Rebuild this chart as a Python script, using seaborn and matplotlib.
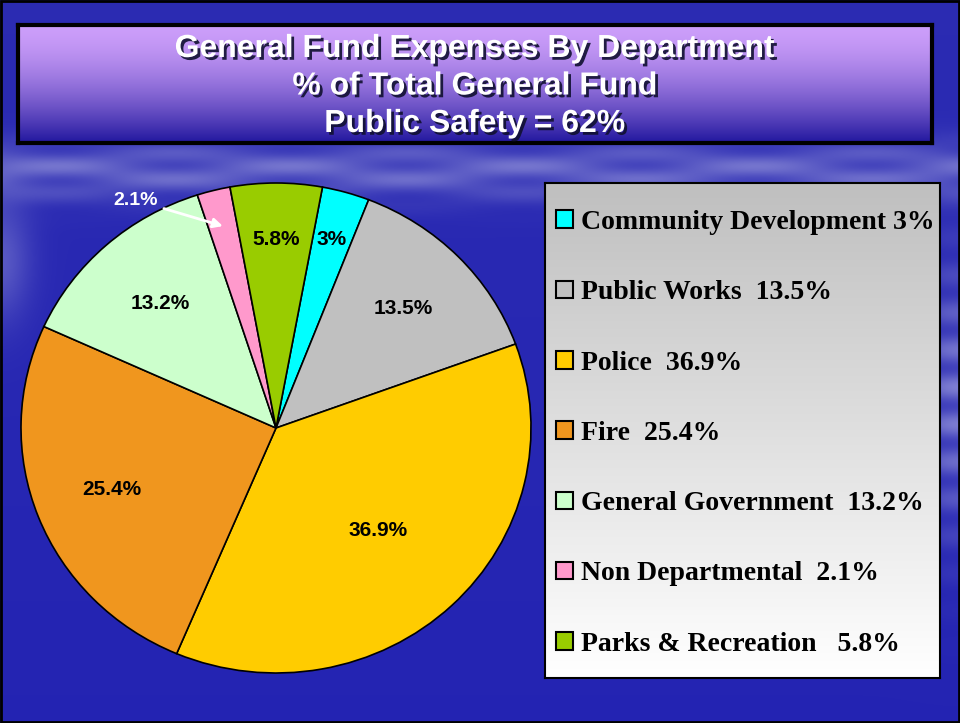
import matplotlib

matplotlib.use("Agg")

import matplotlib.pyplot as plt
import matplotlib.patheffects as pe
import numpy as np
import seaborn as sns

# data
departments = [
    "Community Development",
    "Public Works",
    "Police",
    "Fire",
    "General Government",
    "Non Departmental",
    "Parks & Recreation",
]
shares = [3.0, 13.5, 36.9, 25.4, 13.2, 2.1, 5.8]
slice_labels = ["3%", "13.5%", "36.9%", "25.4%", "13.2%", "2.1%", "5.8%"]
legend_labels = [
    "Community Development 3%",
    "Public Works  13.5%",
    "Police  36.9%",
    "Fire  25.4%",
    "General Government  13.2%",
    "Non Departmental  2.1%",
    "Parks & Recreation   5.8%",
]
title_lines = [
    "General Fund Expenses By Department",
    "% of Total General Fund",
    "Public Safety = 62%",
]

# styling
colors = ["#00FFFF", "#C0C0C0", "#FFCC00", "#F0961E", "#CCFFCC", "#FF99CC", "#99CC00"]
label_dist = [0.80, 0.70, 0.58, 0.69, 0.68, None, 0.77]

W, H = 960, 723
sns.set_theme(style="white")
plt.rcParams["font.family"] = ["Liberation Sans", "DejaVu Sans"]

fig = plt.figure(figsize=(W / 100, H / 100), dpi=100)

# background: blue with soft light streaks
yy, xx = np.mgrid[0:H, 0:W]
base = np.zeros((H, W, 3))
base[..., 0] = 0.17 - 0.03 * yy / H
base[..., 1] = 0.17 - 0.03 * yy / H
base[..., 2] = 0.70
streak = (np.exp(-((yy - 170) / 28.0) ** 2) * (0.55 + 0.25 * np.sin(xx / 37.0) * np.sin(yy / 5.0)))
streak += np.exp(-((xx - 960) / 45.0) ** 2) * np.exp(-((yy - 400) / 130.0) ** 2) * (0.6 + 0.3 * np.sin(yy / 6.0))
streak += np.exp(-((xx - 0) / 30.0) ** 2) * np.exp(-((yy - 260) / 60.0) ** 2) * 0.5
streak = np.clip(streak, 0, 1) * 0.55
bg = base * (1 - streak[..., None]) + np.array([0.85, 0.85, 0.95]) * streak[..., None]
ax_bg = fig.add_axes([0, 0, 1, 1], zorder=0)
ax_bg.imshow(bg, aspect="auto", extent=[0, W, H, 0])
ax_bg.axis("off")
ax_bg.add_patch(plt.Rectangle((1, 1), W - 2, H - 2, fill=False, ec="black", lw=2))

# title box with purple gradient
t = np.linspace(0, 1, 200)[:, None]
top = np.array([0.80, 0.62, 0.98])
bottom = np.array([0.13, 0.09, 0.62])
grad = top + (bottom - top) * (t ** 1.6)[..., None]
ax_t = fig.add_axes([18 / W, (H - 143) / H, 914 / W, 118 / H], zorder=1)
ax_t.imshow(np.repeat(grad, 2, axis=1), aspect="auto")
ax_t.set_xticks([])
ax_t.set_yticks([])
for s in ax_t.spines.values():
    s.set_color("black")
    s.set_linewidth(3)
shadow = [pe.SimplePatchShadow(offset=(2, -2), shadow_rgbFace="#101030", alpha=0.9), pe.Normal()]
for i, line in enumerate(title_lines):
    fig.text(475 / W, 1 - (49 + 37.5 * i) / H, line, ha="center", va="center",
             fontsize=23, fontweight="bold", color="white", path_effects=shadow, zorder=5)

# pie chart
ax = fig.add_axes([21 / W, (H - 673) / H, 510 / W, 490 / H], zorder=2)
wedges, _ = ax.pie(shares, colors=colors, startangle=79.5, counterclock=False,
                   wedgeprops=dict(edgecolor="black", linewidth=1.2))
ax.set_aspect("auto")
ax.set_xlim(-1, 1)
ax.set_ylim(-1, 1)
ax.axis("off")
for w, lab, d in zip(wedges, slice_labels, label_dist):
    ang = np.deg2rad((w.theta1 + w.theta2) / 2)
    if d is None:
        ax.annotate(lab, xy=(0.85 * np.cos(ang), 0.85 * np.sin(ang)), xytext=(-0.55, 0.93),
                    ha="center", va="center", fontsize=14, fontweight="bold", color="white",
                    arrowprops=dict(arrowstyle="-|>", color="white", lw=2, shrinkA=2, shrinkB=0,
                                    mutation_scale=14))
    else:
        ax.text(d * np.cos(ang), d * np.sin(ang), lab, ha="center", va="center",
                fontsize=15, fontweight="bold", color="black")

# legend box with grey gradient
lg = np.array([0.75, 0.75, 0.75]) + (1 - 0.75) * np.linspace(0, 1, 200)[:, None, None] * np.ones((1, 2, 3))
ax_l = fig.add_axes([545 / W, (H - 678) / H, 395 / W, 495 / H], zorder=1)
ax_l.imshow(lg, aspect="auto")
ax_l.set_xticks([])
ax_l.set_yticks([])
for s in ax_l.spines.values():
    s.set_color("black")
    s.set_linewidth(1.5)

leg = fig.legend(wedges, legend_labels, loc="upper left", bbox_to_anchor=(556 / W, 1 - 210 / H),
                 frameon=False, prop=dict(family=["Liberation Serif"], weight="bold", size=20),
                 labelcolor="black",
                 handlelength=0.6, handleheight=0.6, handletextpad=0.3, labelspacing=1.63,
                 borderaxespad=0, borderpad=0)
leg.set_zorder(6)
for h in leg.legend_handles:
    h.set_edgecolor("black")
    h.set_linewidth(1.5)

fig.savefig("out.png", dpi=100)
